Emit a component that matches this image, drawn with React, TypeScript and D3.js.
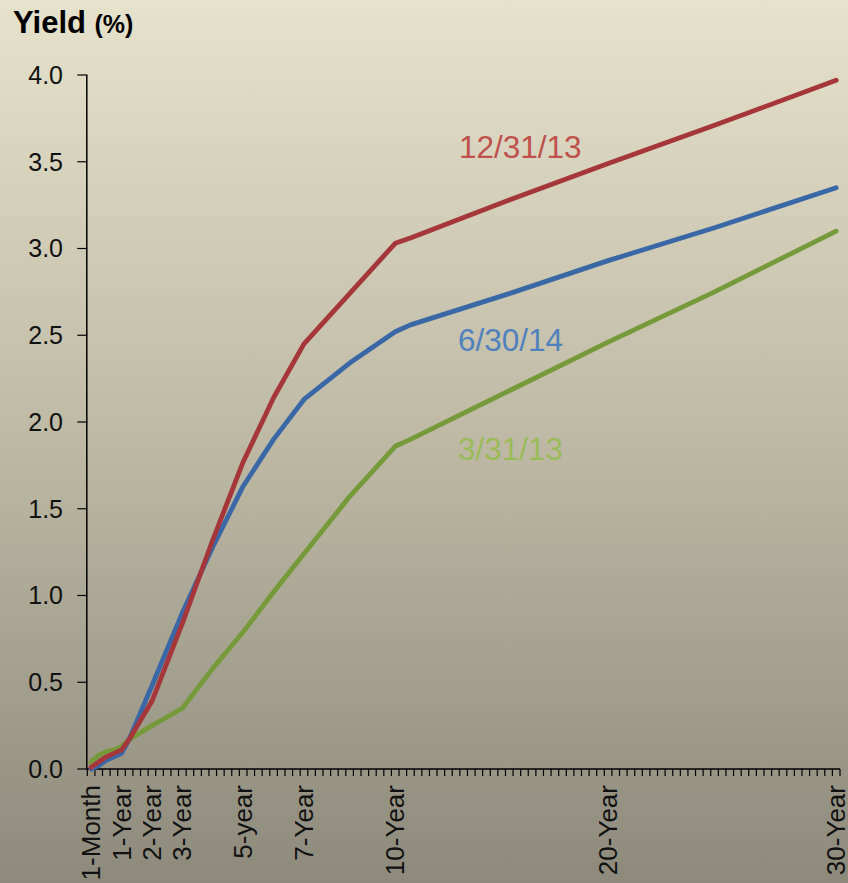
import React from "react";
import * as d3 from "d3";

const W = 848;
const H = 883;

// Category axis: 99 maturity buckets, labels on a subset
const categoryCount = 99;
const tickLabels = ["1-Month", "1-Year", "2-Year", "3-Year", "5-year", "7-Year", "10-Year", "20-Year", "30-Year"];
const tickLabelIdx = [0, 4, 8, 12, 20, 28, 40, 68, 98];

// Sample category indices at which values were read
const sampleIdx = [0, 1, 2, 3, 4, 5, 8, 12, 16, 20, 24, 28, 34, 40, 42, 55, 68, 82, 98];
const dec13 = [0.01, 0.04, 0.07, 0.09, 0.11, 0.17, 0.39, 0.84, 1.32, 1.77, 2.14, 2.45, 2.74, 3.03, 3.06, 3.28, 3.49, 3.71, 3.97];
const jun14 = [0.0, 0.02, 0.05, 0.07, 0.09, 0.17, 0.48, 0.9, 1.28, 1.63, 1.9, 2.13, 2.34, 2.52, 2.56, 2.74, 2.93, 3.12, 3.35];
const mar13 = [0.04, 0.08, 0.1, 0.11, 0.13, 0.17, 0.25, 0.35, 0.58, 0.79, 1.02, 1.24, 1.57, 1.86, 1.9, 2.18, 2.46, 2.75, 3.1];

const yTicks = [0, 0.5, 1, 1.5, 2, 2.5, 3, 3.5, 4];

const seriesNames = ["3/31/13", "6/30/14", "12/31/13"];
const seriesValues = [mar13, jun14, dec13];
const lineColors = ["#76993a", "#3a67a6", "#a5363a"];
const labelColors = ["#9bbb59", "#4f81bd", "#c0504d"];
const labelAnchors = [
  { x: 458, y: 460 },
  { x: 458, y: 351 },
  { x: 459, y: 158 },
];

const FONT = "'Liberation Sans', Arial, Helvetica, sans-serif";

export default function App() {
  const x = d3.scaleLinear().domain([-0.5, categoryCount - 0.5]).range([87.3, 840]);
  const y = d3.scaleLinear().domain([0, 4]).range([769, 75]);
  const line = d3
    .line<[number, number]>()
    .x((d) => x(d[0]))
    .y((d) => y(d[1]))
    .curve(d3.curveLinear);

  const boundaries = d3.range(0, categoryCount + 1);
  const x0 = x.range()[0];
  const x1 = x.range()[1];
  const yBase = y(0);

  return (
    <svg
      width={W}
      height={H}
      style={{ position: "absolute", left: 0, top: 0, display: "block" }}
      fontFamily={FONT}
    >
      <defs>
        <linearGradient id="bg" x1="0" y1="0" x2="0" y2="1">
          <stop offset="0%" stopColor="#e6e2cc" />
          <stop offset="50%" stopColor="#bdb9a4" />
          <stop offset="100%" stopColor="#8d8a7c" />
        </linearGradient>
      </defs>
      <rect x={0} y={0} width={W} height={H} fill="url(#bg)" />

      {/* Title */}
      <text x={13} y={33} fontSize={31} fontWeight="bold" fill="#000">
        Yield <tspan fontSize={25}>(%)</tspan>
      </text>

      {/* Y axis */}
      <line x1={x0 - 0.5} x2={x0 - 0.5} y1={y(4)} y2={yBase} stroke="#000" strokeWidth={1.5} />
      {yTicks.map((t) => (
        <g key={t}>
          <line x1={x0 - 10} x2={x0} y1={y(t)} y2={y(t)} stroke="#000" strokeWidth={1.2} />
          <text
            x={63}
            y={y(t)}
            dy="0.35em"
            textAnchor="end"
            fontSize={25}
            fill="#111"
          >
            {t.toFixed(1)}
          </text>
        </g>
      ))}

      {/* X axis */}
      <line x1={x0 - 1} x2={x1} y1={yBase} y2={yBase} stroke="#000" strokeWidth={1.5} />
      {boundaries.map((b) => (
        <line
          key={b}
          x1={x(b - 0.5)}
          x2={x(b - 0.5)}
          y1={yBase}
          y2={yBase + 7}
          stroke="#000"
          strokeWidth={1.2}
        />
      ))}
      {tickLabels.map((lab, i) => (
        <text
          key={lab}
          transform={`translate(${x(tickLabelIdx[i])},${yBase + 16}) rotate(-90)`}
          textAnchor="end"
          dy="0.35em"
          fontSize={26}
          fill="#111"
        >
          {lab}
        </text>
      ))}

      {/* Lines */}
      {seriesValues.map((vals, si) => (
        <path
          key={seriesNames[si]}
          d={line(sampleIdx.map((k, j) => [k, vals[j]] as [number, number])) || ""}
          fill="none"
          stroke={lineColors[si]}
          strokeWidth={4.8}
          strokeLinejoin="round"
          strokeLinecap="round"
        />
      ))}

      {/* Series labels */}
      {seriesNames.map((n, si) => (
        <text
          key={n}
          x={labelAnchors[si].x}
          y={labelAnchors[si].y}
          fontSize={31.5}
          fill={labelColors[si]}
        >
          {n}
        </text>
      ))}
    </svg>
  );
}
